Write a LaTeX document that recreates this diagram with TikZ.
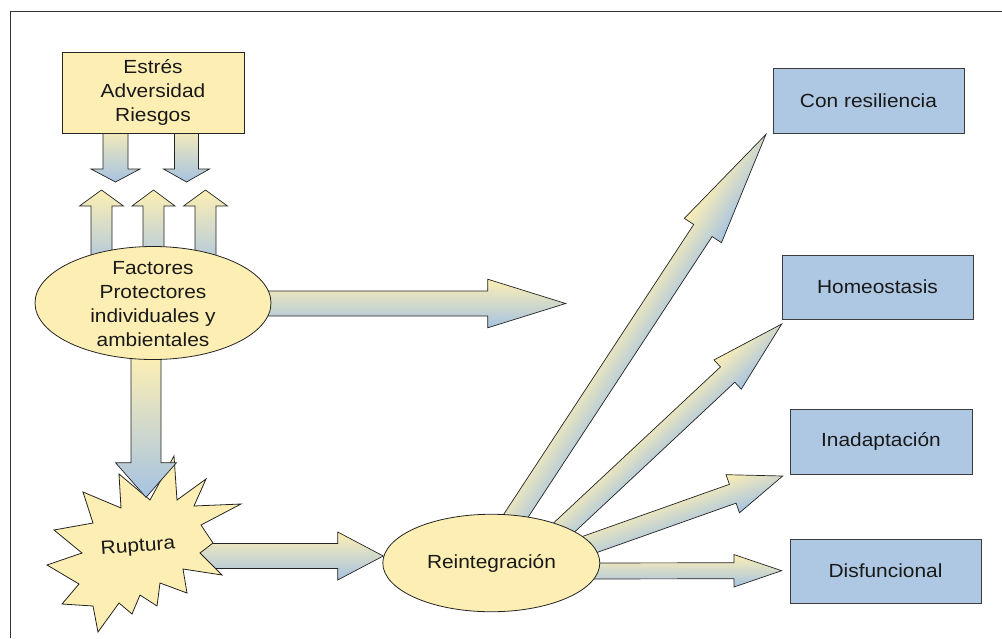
\documentclass[tikz,border=0pt]{standalone}
\usepackage{fontspec}
\setmainfont{Liberation Sans}[FakeStretch=1.1]
\usetikzlibrary{shapes.geometric,backgrounds}
\definecolor{fillY}{RGB}{253,239,180}
\definecolor{fillB}{RGB}{174,199,227}
\definecolor{gradY}{RGB}{253,239,180}
\definecolor{gradB}{RGB}{166,195,226}
\definecolor{edge}{RGB}{35,35,35}
\definecolor{boxedge}{RGB}{60,60,60}
\definecolor{txt}{RGB}{25,25,25}
\definecolor{framec}{RGB}{50,50,50}
\tikzset{
  every node/.style={font=\fontsize{19}{23.7}\selectfont, text=txt},
  barrow/.style={draw=edge, line width=0.7pt, line join=miter, top color=gradY, bottom color=gradB},
  downgrad/.style={left color=gradY, right color=gradB},
  upgrad/.style={left color=gradB, right color=gradY},
  ybox/.style={draw=edge, line width=0.8pt, fill=fillY, inner sep=0pt},
  bbox/.style={draw=boxedge, line width=0.8pt, fill=fillB, inner sep=0pt},
  yell/.style={ellipse, draw=edge, line width=0.8pt, fill=fillY, inner sep=0pt},
  framestyle/.style={draw=framec, line width=1pt}
}
% #1 extra style, #2 from, #3 to, #4 shaft half width, #5 head half width, #6 head length
\newcommand\blockarrow[6][]{%
  \pgfpointdiff{\pgfpointanchor{#2}{center}}{\pgfpointanchor{#3}{center}}%
  \pgfgetlastxy{\bdx}{\bdy}%
  \pgfmathsetmacro\bang{atan2(\bdy,\bdx)}%
  \pgfmathsetmacro\blen{veclen(\bdx,\bdy)}%
  \pgfpointanchor{#2}{center}\pgfgetlastxy{\bax}{\bay}%
  \begin{scope}[transform canvas={shift={(\bax,\bay)},rotate=\bang}]
    \path[barrow,#1] (0,-#4) -- ({\blen-#6},-#4) -- ({\blen-#6},-#5) -- (\blen,0)
      -- ({\blen-#6},#5) -- ({\blen-#6},#4) -- (0,#4) -- cycle;
  \end{scope}}
\begin{document}
\begin{tikzpicture}[x=1pt,y=1pt]
\useasboundingbox (0,0) rectangle (1002,-638);
% frame
\draw[framestyle] (10,-638) -- (10,-11) -- (1002,-11);

% nodes
\node[ybox, minimum width=182, minimum height=81, align=center] (est) at (153,-92.5) {Estrés\\Adversidad\\Riesgos};
\node[yell, minimum width=236, minimum height=113] (fac) at (153,-303) {};
\node[align=center] (factxt) at (153,-304) {Factores\\Protectores\\individuales y\\ambientales};
\node[yell, minimum width=217, minimum height=97.5] (rei) at (491.3,-563) {};
\node (reitxt) at (491.5,-563) {Reintegración};
\node[bbox, minimum width=191, minimum height=65] (con) at (868.5,-100.5) {Con resiliencia};
\node[bbox, minimum width=191, minimum height=64] (hom) at (877.5,-287) {Homeostasis};
\node[bbox, minimum width=182, minimum height=65] (ina) at (881,-441.5) {Inadaptación};
\node[bbox, minimum width=191, minimum height=64] (dis) at (885.5,-571) {Disfuncional};
\node[rotate=4] (rup) at (138,-547) {Ruptura};

% connector end points
\coordinate (a1s) at (200,-556);   \coordinate (a1t) at (383.3,-556);
\coordinate (a2s) at (146,-356);   \coordinate (a2t) at (146,-497.3);
\coordinate (a3s) at (250,-303.5); \coordinate (a3t) at (565.7,-303.5);
\coordinate (d1s) at (115.5,-125); \coordinate (d1t) at (115.5,-182);
\coordinate (d2s) at (186.5,-125); \coordinate (d2t) at (186.5,-182);
\coordinate (u1s) at (101.5,-272); \coordinate (u1t) at (101.5,-190);
\coordinate (u2s) at (153.5,-272); \coordinate (u2t) at (153.5,-190);
\coordinate (u3s) at (205.5,-272); \coordinate (u3t) at (205.5,-190);
\coordinate (b1s) at (500,-540);   \coordinate (b1t) at (766,-134.3);
\coordinate (b2s) at (540,-550);   \coordinate (b2t) at (781.7,-324);
\coordinate (b3s) at (560,-555);   \coordinate (b3t) at (782.7,-476);
\coordinate (b4s) at (560,-571);   \coordinate (b4t) at (781.7,-570.7);

\begin{pgfonlayer}{background}
  \blockarrow{a1s}{a1t}{12.5}{24}{45.6}
  % starburst
  \filldraw[draw=edge, line width=0.8pt, fill=fillY, line join=miter]
    (174,-456) -- (177,-500) -- (206,-479) -- (194,-506) -- (241,-504) -- (201,-525)
    -- (213,-543) -- (200,-553) -- (222,-575) -- (183,-569) -- (187,-593) -- (160,-583)
    -- (157,-606) -- (140,-595) -- (132,-614) -- (119,-603) -- (98,-632) -- (93,-606)
    -- (62,-604) -- (79,-584) -- (47,-565) -- (82,-553) -- (54,-530) -- (93,-523)
    -- (83,-492) -- (121,-508) -- (119,-474) -- (150,-500) -- cycle;
  \blockarrow[downgrad]{a2s}{a2t}{15}{30.5}{34.6}
  \blockarrow{a3s}{a3t}{12.5}{24.3}{78}
  \blockarrow[downgrad]{d1s}{d1t}{12.5}{24.5}{13}
  \blockarrow[downgrad]{d2s}{d2t}{12}{23}{13}
  \blockarrow[upgrad]{u1s}{u1t}{10.5}{22}{16}
  \blockarrow[upgrad]{u2s}{u2t}{10.5}{21.5}{16}
  \blockarrow[upgrad]{u3s}{u3t}{10.5}{22}{16}
  \blockarrow{b1s}{b1t}{11}{22.2}{115}
  \blockarrow{b2s}{b2t}{10.5}{20}{74}
  \blockarrow{b3s}{b3t}{10}{20.2}{53}
  \blockarrow{b4s}{b4t}{8}{16.2}{47.7}
\end{pgfonlayer}
\end{tikzpicture}
\end{document}
